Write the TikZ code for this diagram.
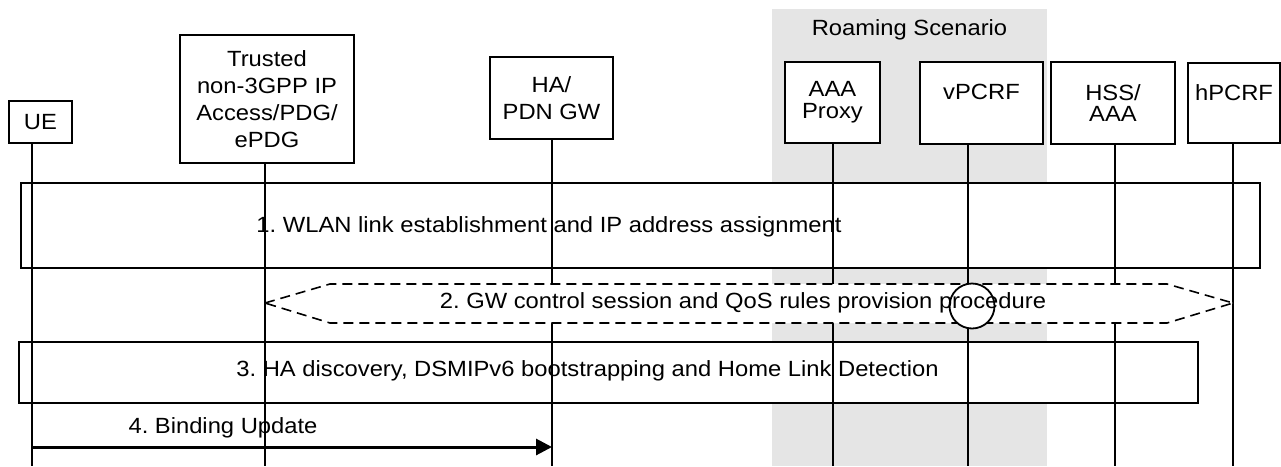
\documentclass[tikz,border=0pt]{standalone}
\usepackage{fontspec}
\setmainfont{Liberation Sans}[FakeStretch=1.08]
\usetikzlibrary{arrows.meta}
\frenchspacing

\tikzset{
  entity/.style={draw, line width=2pt, fill=white, align=center, inner sep=0pt},
  lefty/.style={font=\fontsize{22}{27}\selectfont},
  righty/.style={font=\fontsize{22}{21.7}\selectfont},
  msgbox/.style={draw, line width=2.2pt, fill=white, inner sep=0pt},
  lifeline/.style={line width=1.6pt},
}

\begin{document}
\begin{tikzpicture}[x=1pt,y=-1pt,font=\fontsize{22}{27}\selectfont]
\useasboundingbox (0,0) rectangle (1281,466);

% Roaming area
  \fill[black!10] (772,9) rectangle (1047,466);
  \node (roam) at (909.5,30) {Roaming Scenario};

% Entities
  \node[entity, lefty, minimum width=63pt, minimum height=42pt] (ue) at (40.5,122) {UE};
  \node[entity, lefty, minimum width=174pt, minimum height=128pt] (trusted) at (267,99) {Trusted\\non-3GPP IP\\Access/PDG/\\ePDG};
  \node[entity, lefty, minimum width=123pt, minimum height=82pt] (ha) at (551.5,98) {HA/\\PDN GW};
  \node[entity, righty, minimum width=95pt, minimum height=81pt] (aaa) at (832.5,102.5) {AAA\\Proxy};
  \node[entity, righty, minimum width=123pt, minimum height=82pt] (vpcrf) at (981.5,103) {vPCRF\\\mbox{}};
  \node[entity, righty, minimum width=124pt, minimum height=82pt] (hss) at (1113,103) {HSS/\\AAA};
  \node[entity, righty, minimum width=92pt, minimum height=80pt] (hpcrf) at (1234,103) {hPCRF\\\mbox{}};

% Boxes
  \node[msgbox, minimum width=1239pt, minimum height=85pt] (wlan) at (640.5,225.5) {};
  \node[msgbox, minimum width=1179pt, minimum height=61pt] (hadisc) at (608.5,372.5) {};

% Lifelines
  \foreach \n/\x in {ue/32, trusted/265, ha/552, aaa/833, vpcrf/968, hss/1115, hpcrf/1233}
  {
    \coordinate (\n-foot) at (\x,466);
    \draw[lifeline] (\n-foot |- \n.south) -- (\n-foot);
  }

% GW control session
  \draw[dash pattern=on 10pt off 6pt, line width=1.6pt, fill=white]
    (265,303) -- (330,284) -- (1167,284) -- (1233,303) -- (1167,323) -- (330,323) -- cycle;
  \node[draw, circle, fill=white, line width=1.8pt, minimum size=45pt] (mark) at (972,306) {};

% Labels
  \node (wlan-text) at (549,227) {1. WLAN link establishment and IP address assignment};
  \node (gw-text) at (743,303) {2. GW control session and QoS rules provision procedure};
  \node (hadisc-text) at (587.5,371) {3. HA discovery, DSMIPv6 bootstrapping and Home Link Detection};

% Binding Update
  \coordinate (bu-from) at (ue-foot |- 0,447);
  \coordinate (bu-to) at (ha-foot |- 0,447);
  \draw[line width=3pt, -{Triangle[length=16pt,width=16pt]}] (bu-from) -- (bu-to);
  \node (bu-text) at (223,428) {4. Binding Update};

\end{tikzpicture}
\end{document}
